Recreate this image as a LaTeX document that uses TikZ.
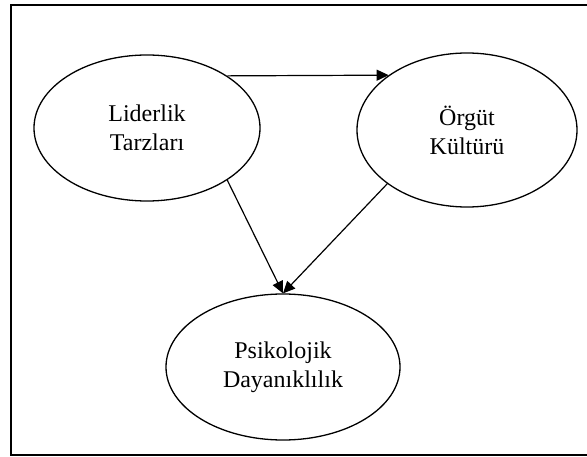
\documentclass[tikz,border=0pt]{standalone}
\usepackage{fontspec}
\setmainfont{Liberation Serif}
\usetikzlibrary{shapes.geometric,arrows.meta}
\begin{document}
\begin{tikzpicture}[x=1pt,y=-1pt,
  oval/.style={draw,ellipse,line width=1.3pt,inner sep=0pt,align=center,
    font=\fontsize{24}{29}\selectfont},
  conn/.style={line width=1.2pt,-{Triangle[length=12pt,width=11pt]}}]
\useasboundingbox (0,0) rectangle (587,457);
\draw[line width=1.6pt] (600,5) -- (11,5) -- (11,455) -- (600,455);
\node[oval,minimum width=226pt,minimum height=146pt] (L) at (147,128) {Liderlik\\Tarzları};
\node[oval,minimum width=220pt,minimum height=154pt] (O) at (467,130) {Örgüt\\Kültürü};
\node[oval,minimum width=234pt,minimum height=146pt] (P) at (283,367) {Psikolojik\\Dayanıklılık};
\draw[conn] (L.33.25) -- (O.145.45);
\draw[conn] (L.-33) -- (P.north);
\draw[conn] (O.-146) -- (P.north);
\end{tikzpicture}
\end{document}
